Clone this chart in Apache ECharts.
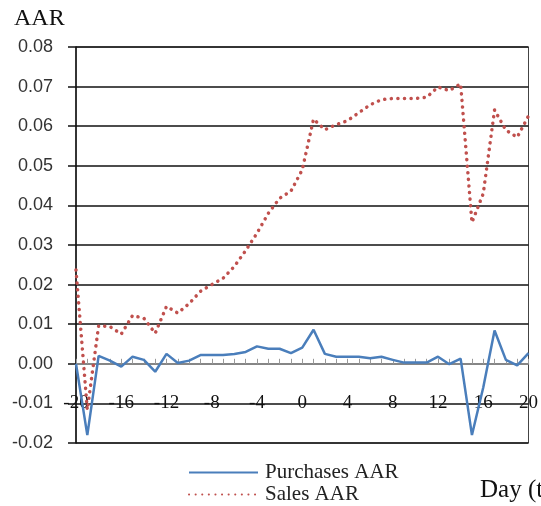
<!DOCTYPE html>
<html>
<head>
<meta charset="utf-8">
<script src="https://cdn.jsdelivr.net/npm/echarts@6/dist/echarts.min.js"></script>
<style>
  html, body { margin: 0; padding: 0; background: #fff; }
  #chart { width: 541px; height: 506px; }
</style>
</head>
<body>
<div id="chart"></div>
<script>
// event days -20..20
const days = [];
for (let d = -20; d <= 20; d++) days.push(d);

const purchasesAAR = [
  0.0, -0.018, 0.002, 0.0008, -0.0007, 0.0018, 0.001, -0.002, 0.0025, 0.0002,
  0.0008, 0.0022, 0.0022, 0.0022, 0.0025, 0.003, 0.0044, 0.0038, 0.0038, 0.0027,
  0.0041, 0.0086, 0.0025, 0.0018, 0.0018, 0.0018, 0.0014, 0.0018, 0.001, 0.0003,
  0.0003, 0.0003, 0.0018, -0.0001, 0.0013, -0.018, -0.006, 0.0084, 0.001, -0.0004,
  0.0027
];

const salesAAR = [
  0.0237, -0.0116, 0.0096, 0.0094, 0.0075, 0.0122, 0.0115, 0.0077, 0.0145, 0.0128,
  0.0152, 0.0183, 0.02, 0.0216, 0.0246, 0.0286, 0.033, 0.038, 0.0418, 0.0436,
  0.049, 0.0618, 0.0591, 0.0604, 0.0614, 0.0634, 0.0654, 0.0667, 0.067, 0.067,
  0.067, 0.0673, 0.0699, 0.069, 0.0707, 0.0357, 0.043, 0.0641, 0.059, 0.0572,
  0.0626
];

const serif = "'Liberation Serif', 'DejaVu Serif', serif";
const sans = "'Liberation Sans', Arial, sans-serif";

const chart = echarts.init(document.getElementById("chart"));

chart.setOption({
  backgroundColor: "#fff",
  animation: false,
  title: {
    text: "AAR",
    left: 14,
    top: 7,
    padding: 0,
    textStyle: { fontFamily: serif, fontSize: 24, fontWeight: "normal", color: "#111" },
  },
  graphic: [
    {
      type: "text",
      left: 480,
      top: 478,
      style: { text: "Day (t)", font: "25px " + serif, fill: "#111" },
    },
  ],
  legend: {
    orient: "vertical",
    left: 188,
    top: 462,
    padding: 0,
    itemWidth: 69,
    itemHeight: 14,
    itemGap: 1,
    textStyle: { fontFamily: serif, fontSize: 21, lineHeight: 21, color: "#222", padding: [0, 0, 0, 2] },
    itemStyle: { opacity: 0 },
    data: ["Purchases AAR", "Sales AAR"],
  },
  grid: {
    left: 76,
    right: 10,
    top: 47,
    bottom: 63,
    show: true,
    borderColor: "#444",
    borderWidth: 1,
  },
  xAxis: {
    type: "value",
    min: -20,
    max: 20,
    interval: 1,
    axisLine: { onZero: true, lineStyle: { color: "#999", width: 1.5 } },
    axisTick: { show: true, inside: true, length: 5, lineStyle: { color: "#999" } },
    splitLine: { show: false },
    axisLabel: {
      margin: -49,
      fontFamily: serif,
      fontSize: 19,
      color: "#111",
      showMinLabel: true,
      showMaxLabel: true,
      formatter: (v) => (v % 4 === 0 ? String(v) : ""),
    },
  },
  yAxis: {
    type: "value",
    min: -0.02,
    max: 0.08,
    interval: 0.01,
    axisLine: { show: true, onZero: false, lineStyle: { color: "#111", width: 1.5 } },
    axisTick: { show: true, length: 8, lineStyle: { color: "#111", width: 1.5 } },
    splitLine: { lineStyle: { color: "#111", width: 1.5 } },
    axisLabel: {
      margin: 23,
      fontFamily: sans,
      fontSize: 18,
      color: "#333",
      formatter: (v) => v.toFixed(2),
    },
  },
  series: [
    {
      name: "Purchases AAR",
      type: "line",
      data: days.map((d, i) => [d, purchasesAAR[i]]),
      symbol: "none",
      lineStyle: { color: "#4A7EBB", width: 2.5 },
      itemStyle: { color: "#4A7EBB" },
      z: 3,
    },
    {
      name: "Sales AAR",
      type: "line",
      data: days.map((d, i) => [d, salesAAR[i]]),
      symbol: "none",
      lineStyle: { color: "#C0504D", width: 3.5, type: [0.1, 6.5], cap: "round" },
      itemStyle: { color: "#C0504D" },
      z: 2,
    },
  ],
});
</script>
</body>
</html>
